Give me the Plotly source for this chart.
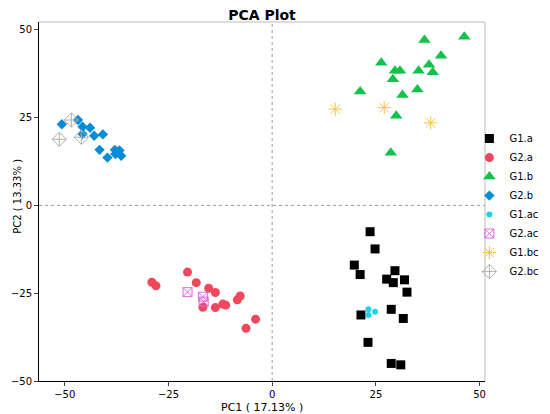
import plotly.graph_objects as go

# PCA scores
groups = ["G1.a", "G2.a", "G1.b", "G2.b", "G1.ac", "G2.ac", "G1.bc", "G2.bc"]

g1a_x = [23.6, 24.8, 19.8, 21.2, 29.6, 27.6, 29.2, 31.9, 32.5, 28.7, 21.4, 31.6, 23.1, 28.7, 31.0]
g1a_y = [-7.5, -12.4, -17.0, -19.7, -18.6, -21.0, -22.0, -21.2, -24.7, -29.6, -31.2, -32.2, -39.0, -45.0, -45.4]

g2a_x = [-29.0, -28.0, -20.4, -18.3, -15.3, -13.7, -16.7, -13.7, -11.9, -11.2, -8.4, -7.7, -4.0, -6.3]
g2a_y = [-21.9, -22.9, -19.0, -22.0, -23.6, -24.8, -29.0, -29.1, -28.1, -28.4, -26.9, -25.8, -32.4, -35.0]

g1b_x = [36.7, 46.3, 40.7, 26.3, 29.6, 30.8, 35.3, 37.8, 38.7, 29.1, 21.2, 35.0, 31.4, 29.9, 28.6]
g1b_y = [47.1, 48.0, 42.6, 40.6, 38.3, 38.3, 38.3, 40.0, 37.9, 35.9, 32.4, 33.0, 31.4, 25.5, 15.0]

g2b_x = [-50.7, -46.8, -45.7, -43.9, -45.7, -42.9, -40.8, -41.6, -39.7, -37.9, -36.8, -37.8, -36.4]
g2b_y = [23.1, 24.3, 22.4, 22.1, 20.3, 19.8, 20.2, 15.8, 13.6, 15.8, 15.6, 14.6, 14.1]

g1ac_x = [23.2, 24.8, 23.2]
g1ac_y = [-29.6, -30.3, -31.2]

g2ac_x = [-20.4, -16.7, -16.5]
g2ac_y = [-24.7, -26.0, -27.4]

g1bc_x = [15.2, 27.0, 38.2]
g1bc_y = [27.4, 27.8, 23.5]

g2bc_x = [-51.3, -48.4, -46.0]
g2bc_y = [18.8, 24.3, 19.4]

x_ticks = [-50, -25, 0, 25, 50]
y_ticks = [-50, -25, 0, 25, 50]

series = [
    (g1a_x, g1a_y, dict(symbol="square", size=9, color="#000000")),
    (g2a_x, g2a_y, dict(symbol="circle", size=9, color="#F0475C")),
    (g1b_x, g1b_y, dict(symbol="triangle-up", size=11, color="#12C24A")),
    (g2b_x, g2b_y, dict(symbol="diamond", size=8, color="#0A8BD6")),
    (g1ac_x, g1ac_y, dict(symbol="circle", size=6, color="#1FD3E6")),
    (g2ac_x, g2ac_y, dict(symbol="square-x-open", size=9, color="#E066E0", line=dict(width=1))),
    (g1bc_x, g1bc_y, dict(symbol="asterisk-open", size=11, color="#F5C242", line=dict(width=1, color="#F5C242"))),
    (g2bc_x, g2bc_y, dict(symbol="diamond-cross-open", size=11, color="#B0B0B0", line=dict(width=1))),
]

fig = go.Figure()
for name, (xs, ys, marker) in zip(groups, series):
    fig.add_trace(go.Scatter(x=xs, y=ys, mode="markers", name=name, marker=marker))

# dotted origin lines and grey frame on top/right
fig.add_shape(type="line", xref="x", yref="paper", x0=0, x1=0, y0=0, y1=1,
              line=dict(color="#999999", width=1, dash="dot"))
fig.add_shape(type="line", xref="paper", yref="y", x0=0, x1=1, y0=0, y1=0,
              line=dict(color="#999999", width=1, dash="dot"))
fig.add_shape(type="line", xref="paper", yref="paper", x0=0, x1=1, y0=1, y1=1,
              line=dict(color="#BBBBBB", width=1))
fig.add_shape(type="line", xref="paper", yref="paper", x0=1, x1=1, y0=0, y1=1,
              line=dict(color="#BBBBBB", width=1))

# axis titles as annotations so they sit as close to the ticks as in the original
fig.add_annotation(text="PC1 ( 17.13% )", xref="paper", yref="paper", x=0.5, y=-0.073,
                   showarrow=False, xanchor="center", yanchor="middle", font=dict(size=11))
fig.add_annotation(text="PC2 ( 13.33% )", xref="paper", yref="paper", x=-0.05, y=0.515,
                   showarrow=False, xanchor="center", yanchor="middle", textangle=-90,
                   font=dict(size=10))

fig.update_layout(
    width=550,
    height=414,
    margin=dict(l=31, r=73, t=14, b=41, autoexpand=False),
    paper_bgcolor="white",
    plot_bgcolor="white",
    font=dict(family="DejaVu Sans", size=10, color="#000000"),
    title=dict(text="<b>PCA Plot</b>", xref="paper", x=0.5, xanchor="center",
               yref="container", y=0.995, yanchor="top", pad=dict(t=0),
               font=dict(size=14)),
    showlegend=True,
    legend=dict(x=0.965, xanchor="left", y=0.49, yanchor="middle",
                font=dict(size=10), itemwidth=30, bgcolor="rgba(0,0,0,0)"),
)

fig.update_xaxes(
    range=[-56.2, 51.3], tickvals=x_ticks, showgrid=False, zeroline=False, automargin=False,
    showline=True, linecolor="#000000", linewidth=1, ticks="outside", ticklen=4,
)
fig.update_yaxes(
    range=[-50, 52.2], tickvals=y_ticks, showgrid=False, zeroline=False, automargin=False,
    showline=True, linecolor="#000000", linewidth=1, ticks="outside", ticklen=4,
)

fig.write_html("out.html")
